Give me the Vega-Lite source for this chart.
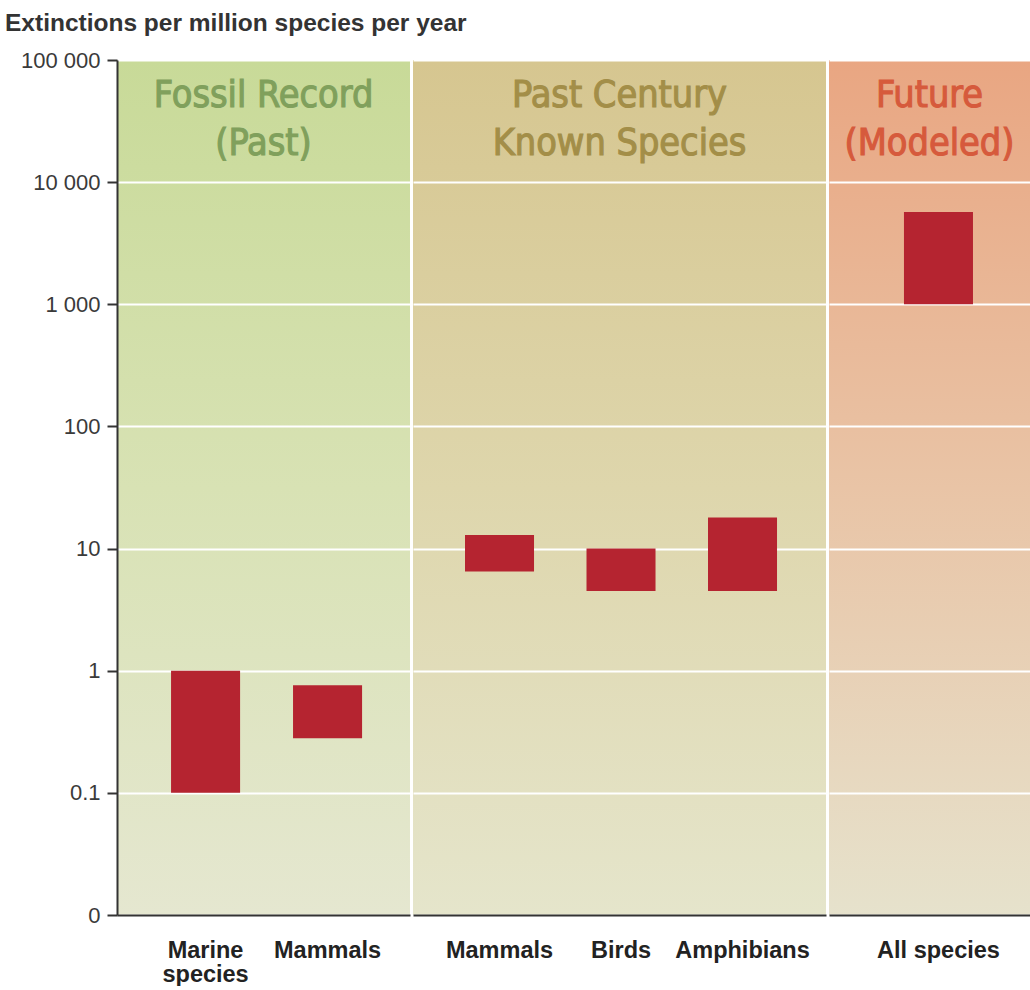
{
  "$schema": "https://vega.github.io/schema/vega-lite/v6.json",
  "background": "white",
  "padding": {"left": 5, "top": 10, "right": 0, "bottom": 0},
  "title": {"text": "Extinctions per million species per year", "anchor": "start", "frame": "bounds", "fontSize": 24.5, "fontWeight": "bold", "font": "Liberation Sans, Arial, sans-serif", "color": "#333333", "offset": 13},
  "datasets": {
    "bars": [
      {"period": "Fossil", "species": "Marine species", "low": 0.1, "high": 1.0},
      {"period": "Fossil", "species": "Mammals", "low": 0.28, "high": 0.76},
      {"period": "Century", "species": "Mammals", "low": 6.5, "high": 12.9},
      {"period": "Century", "species": "Birds", "low": 4.5, "high": 10},
      {"period": "Century", "species": "Amphibians", "low": 4.5, "high": 18},
      {"period": "Future", "species": "All species", "low": 1000, "high": 5700}
    ],
    "panels": [
      {"period": "Fossil", "header": "Fossil Record\n(Past)"},
      {"period": "Century", "header": "Past Century\nKnown Species"},
      {"period": "Future", "header": "Future\n(Modeled)"}
    ]
  },
  "config": {
    "view": {"stroke": null},
    "axis": {"labelFont": "Liberation Sans, Arial, sans-serif"}
  },
  "spacing": 3,
  "hconcat": [
    {
      "width": 293,
      "height": 855,
      "view": {"stroke": null, "fill": {"gradient": "linear", "x1": 0, "y1": 0, "x2": 0, "y2": 1, "stops": [{"offset": 0, "color": "#c8da98"}, {"offset": 0.5, "color": "#d8e2b4"}, {"offset": 1, "color": "#e5e7d0"}]}},
      "layer": [
        {
          "data": {"name": "bars"},
          "transform": [{"filter": "datum.period === 'Fossil'"}],
          "mark": {"type": "bar", "color": "#b52430"},
          "encoding": {
            "x": {"field": "species", "type": "nominal", "sort": ["Marine species", "Mammals"],
              "scale": {"paddingInner": 0.434, "paddingOuter": 0.418, "align": 0.53},
              "axis": {"title": null, "ticks": false, "labelPadding": 23, "labelFontSize": 23.5, "labelFontWeight": "bold", "labelColor": "#222222", "labelAngle": 0, "labelBaseline": "top", "labelLineHeight": 24.5, "domainColor": "#333333", "domainWidth": 2, "labelExpr": "datum.label == 'Marine species' ? ['Marine', 'species'] : datum.label"}},
            "y": {"field": "low", "type": "quantitative",
              "scale": {"type": "log", "domain": [0.01, 100000], "nice": false},
              "axis": {"values": [0.01, 0.1, 1, 10, 100, 1000, 10000, 100000], "labelExpr": "datum.value < 0.05 ? '0' : replace(format(datum.value, ','), ',', ' ')", "title": null, "grid": true, "gridColor": "white", "gridWidth": 2, "gridOpacity": 1, "domainColor": "#333333", "domainWidth": 2, "tickColor": "#333333", "tickWidth": 2, "tickSize": 10, "labelFontSize": 22, "labelColor": "#3a3a3a", "labelPadding": 7, "minExtent": 112}},
            "y2": {"field": "high"}
          }
        },
        {
          "data": {"name": "panels"},
          "transform": [{"filter": "datum.period === 'Fossil'"}],
          "mark": {"type": "text", "font": "DejaVu Sans Condensed, sans-serif", "fontSize": 37.5, "fontWeight": "normal", "lineBreak": "\n", "lineHeight": 48, "baseline": "alphabetic", "align": "center", "dy": 47, "color": "#80a05c", "stroke": "#80a05c", "strokeWidth": 1.1},
          "encoding": {
            "y": {"datum": 100000, "type": "quantitative"},
            "text": {"field": "header"}
          }
        }
      ]
    },
    {
      "width": 413,
      "height": 855,
      "view": {"stroke": null, "fill": {"gradient": "linear", "x1": 0, "y1": 0, "x2": 0, "y2": 1, "stops": [{"offset": 0, "color": "#d6c690"}, {"offset": 0.5, "color": "#ded6ac"}, {"offset": 1, "color": "#e5e5cb"}]}},
      "layer": [
        {
          "data": {"name": "bars"},
          "transform": [{"filter": "datum.period === 'Century'"}],
          "mark": {"type": "bar", "color": "#b52430"},
          "encoding": {
            "x": {"field": "species", "type": "nominal", "sort": ["Mammals", "Birds", "Amphibians"],
              "scale": {"paddingInner": 0.432, "paddingOuter": 0.4156, "align": 0.515},
              "axis": {"title": null, "ticks": false, "labelPadding": 23, "labelFontSize": 23.5, "labelFontWeight": "bold", "labelColor": "#222222", "labelAngle": 0, "labelBaseline": "top", "domainColor": "#333333", "domainWidth": 2}},
            "y": {"field": "low", "type": "quantitative",
              "scale": {"type": "log", "domain": [0.01, 100000], "nice": false},
              "axis": {"values": [0.01, 0.1, 1, 10, 100, 1000, 10000, 100000], "title": null, "labels": false, "ticks": false, "domain": false, "grid": true, "gridColor": "white", "gridWidth": 2, "gridOpacity": 1}},
            "y2": {"field": "high"}
          }
        },
        {
          "data": {"name": "panels"},
          "transform": [{"filter": "datum.period === 'Century'"}],
          "mark": {"type": "text", "font": "DejaVu Sans Condensed, sans-serif", "fontSize": 37.5, "fontWeight": "normal", "lineBreak": "\n", "lineHeight": 48, "baseline": "alphabetic", "align": "center", "dy": 47, "color": "#a38e48", "stroke": "#a38e48", "strokeWidth": 1.1},
          "encoding": {
            "y": {"datum": 100000, "type": "quantitative"},
            "text": {"field": "header"}
          }
        }
      ]
    },
    {
      "width": 201,
      "height": 855,
      "view": {"stroke": null, "fill": {"gradient": "linear", "x1": 0, "y1": 0, "x2": 0, "y2": 1, "stops": [{"offset": 0, "color": "#e9a682"}, {"offset": 0.5, "color": "#e9c4a6"}, {"offset": 1, "color": "#e6e2cc"}]}},
      "layer": [
        {
          "data": {"name": "bars"},
          "transform": [{"filter": "datum.period === 'Future'"}],
          "mark": {"type": "bar", "color": "#b52430"},
          "encoding": {
            "x": {"field": "species", "type": "nominal",
              "scale": {"paddingInner": 0.43, "paddingOuter": 0.545, "align": 0.568},
              "axis": {"title": null, "ticks": false, "labelPadding": 23, "labelFontSize": 23.5, "labelFontWeight": "bold", "labelColor": "#222222", "labelAngle": 0, "labelBaseline": "top", "domainColor": "#333333", "domainWidth": 2}},
            "y": {"field": "low", "type": "quantitative",
              "scale": {"type": "log", "domain": [0.01, 100000], "nice": false},
              "axis": {"values": [0.01, 0.1, 1, 10, 100, 1000, 10000, 100000], "title": null, "labels": false, "ticks": false, "domain": false, "grid": true, "gridColor": "white", "gridWidth": 2, "gridOpacity": 1}},
            "y2": {"field": "high"}
          }
        },
        {
          "data": {"name": "panels"},
          "transform": [{"filter": "datum.period === 'Future'"}],
          "mark": {"type": "text", "font": "DejaVu Sans Condensed, sans-serif", "fontSize": 37.5, "fontWeight": "normal", "lineBreak": "\n", "lineHeight": 48, "baseline": "alphabetic", "align": "center", "dy": 47, "color": "#d65a3c", "stroke": "#d65a3c", "strokeWidth": 1.1},
          "encoding": {
            "y": {"datum": 100000, "type": "quantitative"},
            "text": {"field": "header"}
          }
        }
      ]
    }
  ]
}
